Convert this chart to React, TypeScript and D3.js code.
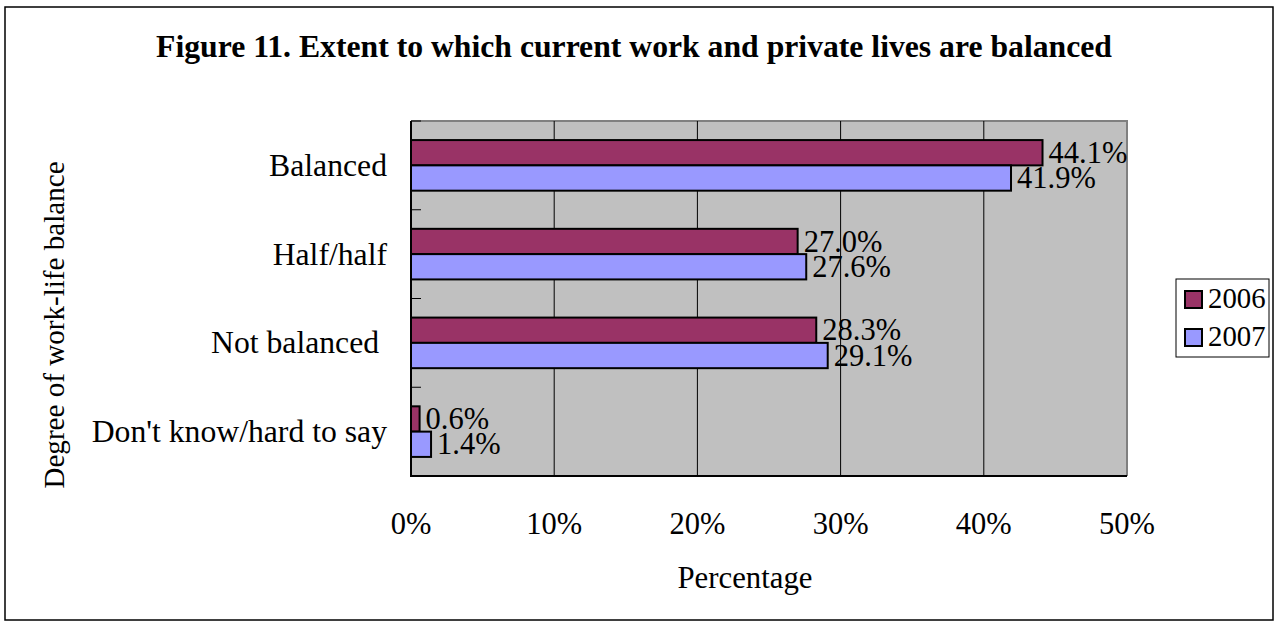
import React from "react";
import * as d3 from "d3";

const categories = ["Balanced", "Half/half", "Not balanced ", "Don't know/hard to say"];
const seriesNames = ["2006", "2007"];
const values2006 = [44.1, 27.0, 28.3, 0.6];
const values2007 = [41.9, 27.6, 29.1, 1.4];
const xTicks = [0, 10, 20, 30, 40, 50];
const colors = ["#993366", "#9999FF"];

const W = 1282;
const H = 621;
const plot = { left: 411, right: 1127, top: 121, bottom: 476 };
const FONT = "'Liberation Serif', 'Times New Roman', serif";
const FS_TITLE = 31.7;
const FS_CAT = 31.7;
const FS_DATA = 30.5;
const FS_TICK = 30.5;
const FS_XTITLE = 30.8;
const FS_YTITLE = 29.1;
const FS_LEGEND = 28.8;

export default function App() {
  const x = d3.scaleLinear().domain([0, 50]).range([plot.left, plot.right]);
  const y0 = d3.scaleBand<string>().domain(categories).range([plot.top, plot.bottom]).padding(0);
  const y1 = d3
    .scaleBand<string>()
    .domain(seriesNames)
    .range([0, y0.bandwidth()])
    .paddingInner(0)
    .paddingOuter(0.754);
  const seriesValues = [values2006, values2007];
  const boundaries = categories.map((c) => y0(c) as number).concat([plot.bottom]);

  return (
    <svg width={W} height={H} style={{ position: "absolute", left: 0, top: 0, background: "#fff" }} fontFamily={FONT}>
      <rect x={5} y={7} width={1268} height={613} fill="#fff" stroke="#000" strokeWidth={1.5} />
      <text x={634} y={57} textAnchor="middle" fontSize={FS_TITLE} fontWeight="bold">
        Figure 11. Extent to which current work and private lives are balanced
      </text>
      {/* plot background */}
      <rect x={plot.left} y={plot.top} width={plot.right - plot.left} height={plot.bottom - plot.top} fill="#C0C0C0" />
      <path
        d={`M${plot.left},${plot.top}H${plot.right}V${plot.bottom}`}
        fill="none"
        stroke="#808080"
        strokeWidth={2}
      />
      {xTicks.slice(1, -1).map((t) => (
        <line key={t} x1={x(t)} x2={x(t)} y1={plot.top} y2={plot.bottom} stroke="#000" strokeWidth={1} />
      ))}
      {/* bars */}
      {categories.map((c, i) =>
        seriesNames.map((s, j) => {
          const v = seriesValues[j][i];
          const yy = (y0(c) as number) + (y1(s) as number);
          return (
            <g key={c + s}>
              <rect
                x={x(0)}
                y={yy}
                width={x(v) - x(0)}
                height={y1.bandwidth()}
                fill={colors[j]}
                stroke="#000"
                strokeWidth={2}
              />
              <text x={x(v) + 6} y={yy + y1.bandwidth() / 2} dy="0.33em" fontSize={FS_DATA}>
                {v.toFixed(1)}%
              </text>
            </g>
          );
        })
      )}
      {/* axes */}
      <line x1={plot.left} x2={plot.left} y1={plot.top} y2={plot.bottom + 1} stroke="#000" strokeWidth={2} />
      <line x1={plot.left} x2={plot.right} y1={plot.bottom} y2={plot.bottom} stroke="#000" strokeWidth={2} />
      {boundaries.map((b, i) => (
        <line key={i} x1={plot.left} x2={plot.left + 10} y1={b} y2={b} stroke="#000" strokeWidth={1} />
      ))}
      {categories.map((c) => (
        <text key={c} x={387} y={(y0(c) as number) + y0.bandwidth() / 2} dy="0.33em" textAnchor="end" fontSize={FS_CAT} style={{ whiteSpace: "pre" }}>
          {c}
        </text>
      ))}
      {xTicks.map((t) => (
        <text key={t} x={x(t)} y={534} textAnchor="middle" fontSize={FS_TICK}>
          {t}%
        </text>
      ))}
      <text x={745} y={588} textAnchor="middle" fontSize={FS_XTITLE}>
        Percentage
      </text>
      <text transform="translate(64,325) rotate(-90)" textAnchor="middle" fontSize={FS_YTITLE}>
        Degree of work-life balance
      </text>
      {/* legend */}
      <rect x={1176} y={279} width={93} height={78} fill="#fff" stroke="#000" strokeWidth={1} />
      {seriesNames.map((s, j) => (
        <g key={s}>
          <rect x={1185} y={291 + j * 38} width={17} height={17} fill={colors[j]} stroke="#000" strokeWidth={2} />
          <text x={1208} y={308 + j * 38} fontSize={FS_LEGEND}>
            {s}
          </text>
        </g>
      ))}
    </svg>
  );
}
